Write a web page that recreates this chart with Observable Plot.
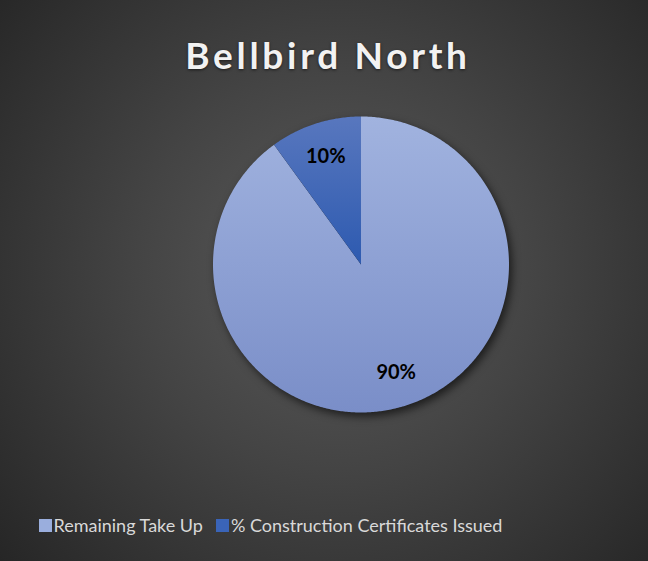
<!DOCTYPE html>
<html>
<head>
<meta charset="utf-8">
<script src="https://cdn.jsdelivr.net/npm/d3@7"></script>
<script src="https://cdn.jsdelivr.net/npm/@observablehq/plot@0.6"></script>
<style>
  body { margin: 0; background: #262626; }
  #chart {
    position: relative; width: 648px; height: 561px; overflow: hidden;
    background: radial-gradient(circle farthest-corner at 52% 48%, #5a5a5a 0%, #444 45%, #262626 100%);
    font-family: Lato, "Open Sans", sans-serif;
  }
  #title {
    position: absolute; left: 4px; width: 648px; top: 36px; text-align: center;
    font-weight: 700; font-size: 37px; line-height: 37px; letter-spacing: 3.7px;
    color: #f2f2f2; text-shadow: 0 1px 3px rgba(0,0,0,0.6);
  }
  #plot { position: absolute; left: 0; top: 90px; }
  #legend {
    position: absolute; left: 39px; top: 516px; white-space: nowrap;
    font-size: 18px; line-height: 18px; color: #d9d9d9;
  }
  #legend .item { display: inline-block; margin-right: 13.5px; }
  #legend .sw { display: inline-block; width: 12.7px; height: 12.7px; margin-right: 1.8px; vertical-align: baseline; }
</style>
</head>
<body>
<div id="chart">
  <div id="title">Bellbird North</div>
  <div id="plot"></div>
  <div id="legend"></div>
</div>
<script>
// ---- data ----
const categories = ["Remaining Take Up", "% Construction Certificates Issued"];
const values = [90, 10];
const valueLabels = ["90%", "10%"];

// ---- styles ----
const gradTop = ["#a1b3df", "#5877be"];
const gradBottom = ["#7a8ec8", "#2d5ab0"];
const swatch = ["#9aaedd", "#3a64b8"];

const W = 648, H = 400;
const cx = 360.5, cy = 174, R = 148; // pixel centre inside svg, radius

const rows = categories.map((c, i) => ({cat: c, value: values[i], label: valueLabels[i], i}));
const arcs = d3.pie().sort(null).value(d => d.value)(rows);

const marks = [];
arcs.forEach(a => {
  const pts = [{x: 0, y: 0}];
  const n = Math.max(2, Math.ceil((a.endAngle - a.startAngle) / 0.01));
  for (let k = 0; k <= n; k++) {
    const t = a.startAngle + (a.endAngle - a.startAngle) * k / n;
    pts.push({x: Math.sin(t), y: Math.cos(t)});
  }
  pts.push({x: 0, y: 0});
  marks.push(Plot.line(pts, {x: "x", y: "y", fill: `url(#grad${a.data.i})`, stroke: "none", curve: "linear"}));
});

const labelPts = arcs.map(a => {
  const m = (a.startAngle + a.endAngle) / 2;
  return {x: 0.77 * Math.sin(m), y: 0.77 * Math.cos(m), label: a.data.label};
});
marks.push(Plot.text(labelPts, {x: "x", y: "y", text: "label", fill: "#000", fontSize: 20, fontWeight: 700, fontFamily: "Lato, 'Open Sans', sans-serif"}));

const svgEl = Plot.plot({
  width: W, height: H,
  marginTop: 0, marginBottom: 0, marginLeft: 0, marginRight: 0,
  style: {background: "transparent", overflow: "visible"},
  x: {domain: [-cx / R, (W - cx) / R], axis: null},
  y: {domain: [-(H - cy) / R, cy / R], axis: null},
  marks
});

const svg = d3.select(svgEl);
const defs = svg.insert("defs", ":first-child");
[0, 1].forEach(i => {
  const g = defs.append("linearGradient").attr("id", `grad${i}`).attr("x1", 0).attr("y1", 0).attr("x2", 0).attr("y2", 1);
  g.append("stop").attr("offset", "0%").attr("stop-color", gradTop[i]);
  g.append("stop").attr("offset", "100%").attr("stop-color", gradBottom[i]);
});
// group the slices to give the whole pie one drop shadow
const lineGroups = svg.selectAll('g[aria-label="line"]').nodes();
if (lineGroups.length) {
  const wrap = document.createElementNS("http://www.w3.org/2000/svg", "g");
  wrap.setAttribute("style", "filter: drop-shadow(3px 4px 4px rgba(0,0,0,0.6))");
  lineGroups[0].parentNode.insertBefore(wrap, lineGroups[0]);
  lineGroups.forEach(n => wrap.appendChild(n));
}
document.getElementById("plot").appendChild(svgEl);

// legend
const leg = d3.select("#legend");
categories.forEach((c, i) => {
  const it = leg.append("span").attr("class", "item");
  it.append("span").attr("class", "sw").style("background", swatch[i]);
  it.append("span").text(c);
});
</script>
</body>
</html>
